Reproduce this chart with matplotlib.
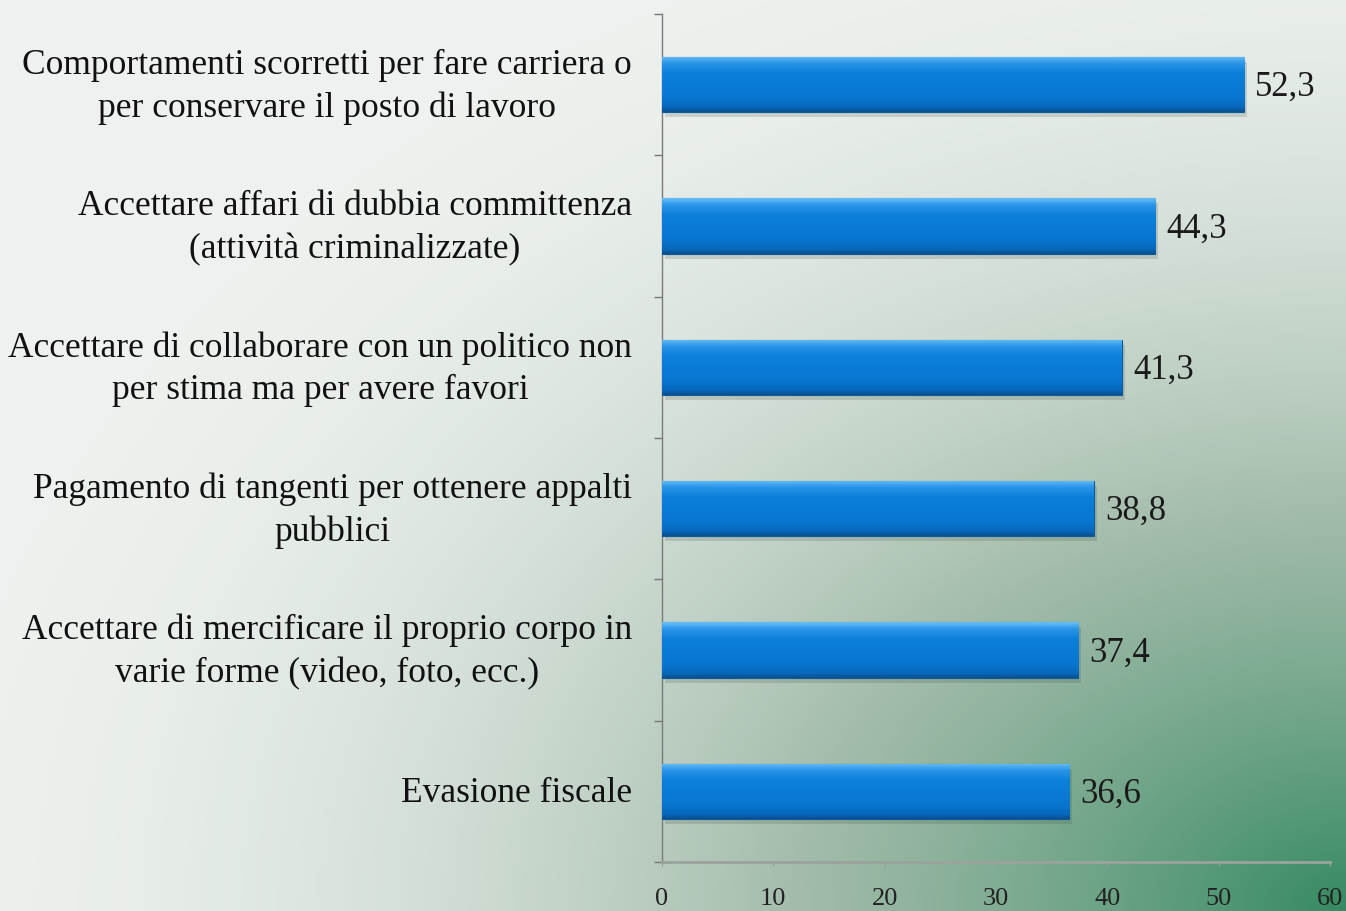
import numpy as np
import matplotlib
matplotlib.use("Agg")
import matplotlib.pyplot as plt
import matplotlib.transforms as mtransforms
from matplotlib.colors import LinearSegmentedColormap

categories = [
    "Comportamenti scorretti per fare carriera o\nper conservare il posto di lavoro",
    "Accettare affari di dubbia committenza\n(attività criminalizzate)",
    "Accettare di collaborare con un politico non\nper stima ma per avere favori",
    "Pagamento di tangenti per ottenere appalti\npubblici",
    "Accettare di mercificare il proprio corpo in\nvarie forme (video, foto, ecc.)",
    "Evasione fiscale",
]
values = [52.3, 44.3, 41.3, 38.8, 37.4, 36.6]
xticks = [0, 10, 20, 30, 40, 50, 60]

plt.rcParams['font.family'] = ['Liberation Serif', 'DejaVu Serif']

W, H = 1346, 911
fig = plt.figure(figsize=(W / 100, H / 100), dpi=100)

# background gradient
bg = fig.add_axes([0, 0, 1, 1], zorder=-10)
yy, xx = np.mgrid[0:H, 0:W]
dx = (W - xx) / 1500.0
dy = (H - yy) / 1100.0
r = np.sqrt(dx ** 2 + dy ** 2)
t = np.clip(1 - r, 0, 1) ** 2
bg_cmap = LinearSegmentedColormap.from_list(
    "bg", [(0, "#eef2ef"), (0.4, "#a3bcab"), (1.0, "#358a62")])
bg.imshow(t, cmap=bg_cmap, vmin=0, vmax=1, aspect="auto", interpolation="bilinear")
bg.axis("off")

ax = fig.add_axes([662 / W, 1 - 862 / H, (1330 - 662) / W, (862 - 14) / H])
ax.set_facecolor("none")

n = len(categories)
ypos = np.arange(n)[::-1]
bar_h = 0.39
bars = ax.barh(ypos, values, height=bar_h, color="#0a7ad4",
               edgecolor="#0a5c9e", linewidth=0.8, zorder=3)

bar_cmap = LinearSegmentedColormap.from_list(
    "bar", [(0, "#66bdf5"), (0.12, "#2a95e8"), (0.3, "#0c80da"),
            (0.75, "#0876d0"), (0.92, "#0668bb"), (1.0, "#0a4f8c")])
grad = np.linspace(0, 1, 100).reshape(-1, 1)
for b in bars:
    x0, y0 = b.get_x(), b.get_y()
    w, h = b.get_width(), b.get_height()
    ax.add_patch(plt.Rectangle((x0 + 0.25, y0 - 0.035), w, h, color="#3a4a40",
                               alpha=0.18, zorder=2, lw=0))
    im = ax.imshow(grad, cmap=bar_cmap, aspect="auto", extent=(x0, x0 + w, y0, y0 + h),
                   origin="upper", zorder=3.5, interpolation="bilinear")
    im.set_clip_path(b)

for yv, v in zip(ypos, values):
    ax.annotate(f"{v:.1f}".replace(".", ","), xy=(v, yv), xytext=(8, -2),
                textcoords="offset points", va="center", ha="left",
                fontsize=25, color="#1a1a1a", zorder=5)

# category labels (drawn as text at each category position)
for yv, lab in zip(ypos, categories):
    tr = ax.get_yaxis_transform() + mtransforms.ScaledTranslation(
        -30 / 100, -2 / 100, fig.dpi_scale_trans)
    ax.text(0, yv, lab, transform=tr, ha="right", va="center",
            multialignment="center", linespacing=1.38,
            fontsize=25.5, color="#111111", clip_on=False)

ax.set_xlim(0, 60)
ax.set_ylim(-0.5, n - 0.5)
ax.set_xticks(xticks)
ax.set_xticklabels([str(x) for x in xticks], fontsize=19, color="#222222")
ax.set_yticks(ypos)
ax.set_yticklabels([])
ax.set_yticks(np.arange(-0.5, n, 1.0), minor=True)
ax.tick_params(axis="y", which="major", length=0)
ax.tick_params(axis="y", which="minor", length=6, color="#777777", width=1, direction="out")
ax.tick_params(axis="x", which="major", length=3, color="#999999", pad=16)

for s in ["top", "right"]:
    ax.spines[s].set_visible(False)
ax.spines["left"].set_color("#7a7a7a")
ax.spines["left"].set_linewidth(1.0)
ax.spines["bottom"].set_color("#9aa39c")
ax.spines["bottom"].set_linewidth(2.0)

fig.savefig("out.png", dpi=100)
